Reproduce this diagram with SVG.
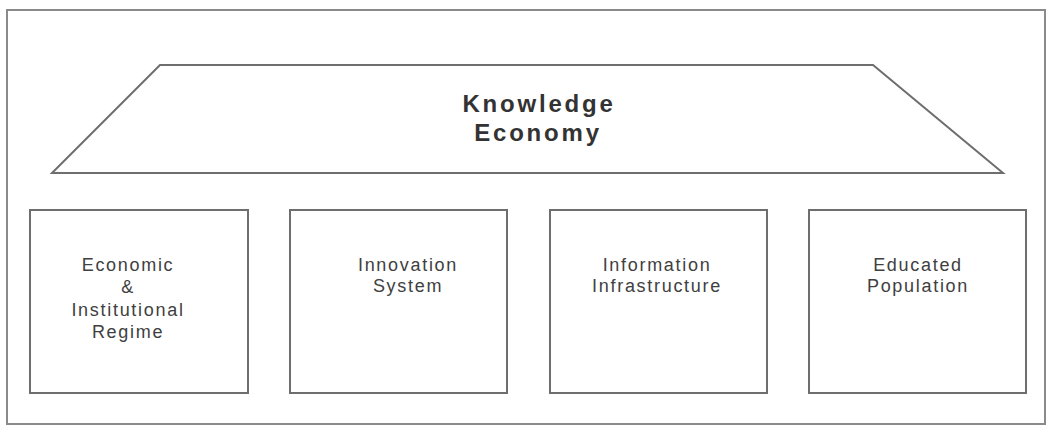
<svg xmlns="http://www.w3.org/2000/svg" width="1048" height="425" viewBox="0 0 1048 425">
<style>
.frame{fill:none;stroke:#8a8a8a;stroke-width:2}
.shape{fill:#fff;stroke:#6e6e6e;stroke-width:2}
.title{font-family:"Liberation Sans",Arial,sans-serif;font-size:24px;font-weight:bold;fill:#333;text-anchor:middle;letter-spacing:2.8px}
.lbl{font-family:"Liberation Sans",Arial,sans-serif;font-size:18px;fill:#404040;text-anchor:middle;letter-spacing:1.7px}
</style>
<rect x="0" y="0" width="1048" height="425" fill="#fff"/>
<rect class="frame" x="7" y="10" width="1038" height="414"/>
<g id="knowledge-economy">
<polygon class="shape" points="160,65 873,65 1003,173 52,173"/>
<text class="title" x="539" y="112">Knowledge</text>
<text class="title" x="538" y="141">Economy</text>
</g>
<g id="economic-regime">
<rect class="shape" x="30" y="210" width="218" height="183"/>
<text class="lbl" x="128" y="271">Economic</text>
<text class="lbl" x="128" y="293">&amp;</text>
<text class="lbl" x="128" y="316">Institutional</text>
<text class="lbl" x="128" y="338">Regime</text>
</g>
<g id="innovation-system">
<rect class="shape" x="290" y="210" width="217" height="183"/>
<text class="lbl" x="408" y="271">Innovation</text>
<text class="lbl" x="408" y="292">System</text>
</g>
<g id="information-infrastructure">
<rect class="shape" x="550" y="210" width="217" height="183"/>
<text class="lbl" x="657" y="271">Information</text>
<text class="lbl" x="657" y="292">Infrastructure</text>
</g>
<g id="educated-population">
<rect class="shape" x="809" y="210" width="217" height="183"/>
<text class="lbl" x="918" y="271">Educated</text>
<text class="lbl" x="918" y="292">Population</text>
</g>
<g id="connectors"/>
</svg>
